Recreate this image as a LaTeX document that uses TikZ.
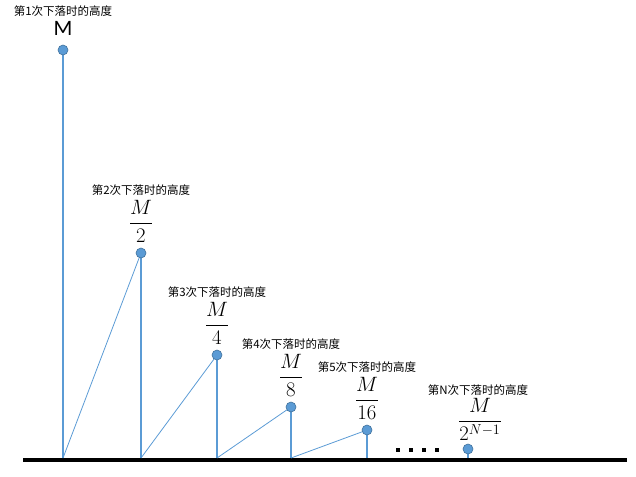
\documentclass[tikz,border=0pt]{standalone}
\usepackage{amsmath}
\usepackage{fontspec}
\setsansfont{Carlito}
\newfontfamily\cjk{Noto Sans CJK SC}
\usetikzlibrary{positioning}
\definecolor{ballblue}{HTML}{5B9BD5}
\definecolor{ballrim}{HTML}{41719C}
\begin{document}
\begin{tikzpicture}[x=1pt,y=-1pt,node distance=5pt]
    \tikzstyle{ball}=[circle,fill=ballblue,draw=ballrim,line width=0.6pt,minimum size=10pt,inner sep=0pt]
    \tikzstyle{drop}=[draw=ballblue,line width=2.5pt]
    \tikzstyle{bounce}=[draw=ballblue,line width=0.8pt]
    \tikzstyle{height}=[font=\fontsize{19.5}{22}\selectfont,inner sep=0pt]
    \tikzstyle{caption}=[font=\cjk\fontsize{11.5}{13}\selectfont,inner sep=0pt]
    \useasboundingbox (0,0) rectangle (636,476);
    % the floor
    \coordinate (L) at (23,460);
    \coordinate (R) at (627,460);
    \draw[line width=4.5pt] (L) -- (R);
    % where each fall starts and ends
    \foreach \name/\x/\y in {1/63/50,2/141/253,3/217/355,4/291/407,5/367/430,N/468/449}{
      \coordinate (t\name) at (\x,\y);
      \coordinate (g\name) at (\x,458);
      \path[drop] (g\name) -- (t\name);
    }
    \path[bounce] (g1) -- (t2);
    \path[bounce] (g2) -- (t3);
    \path[bounce] (g3) -- (t4);
    \path[bounce] (g4) -- (t5);
    \foreach \name in {1,2,3,4,5,N}
      \node[ball] (p\name) at (t\name) {};
    % the dots before the last one
    \foreach \x in {398,411,424,437}
      \fill (\x-2,448) rectangle (\x+2,452);
    % heights
    \node[height, font=\sffamily\fontsize{22}{24}\selectfont, above=9pt of p1] (h1) {M};
    \node[height, above=of p2] (h2) {$\dfrac{M}{2}$};
    \node[height, above=of p3] (h3) {$\dfrac{M}{4}$};
    \node[height, above=of p4] (h4) {$\dfrac{M}{8}$};
    \node[height, above=of p5] (h5) {$\dfrac{M}{16}$};
    \node[height, above=3pt of pN, xshift=12pt] (hN) {$\dfrac{M}{2^{N-1}}$};
    \node[caption, above=of h1] (c1) {第1次下落时的高度};
    \node[caption, above=4pt of h2] (c2) {第2次下落时的高度};
    \node[caption, above=4pt of h3] (c3) {第3次下落时的高度};
    \node[caption, above=4pt of h4] (c4) {第4次下落时的高度};
    \node[caption, above=4pt of h5] (c5) {第5次下落时的高度};
    \node[caption, above=2pt of hN, xshift=-2pt] (cN) {第N次下落时的高度};
\end{tikzpicture}
\end{document}
